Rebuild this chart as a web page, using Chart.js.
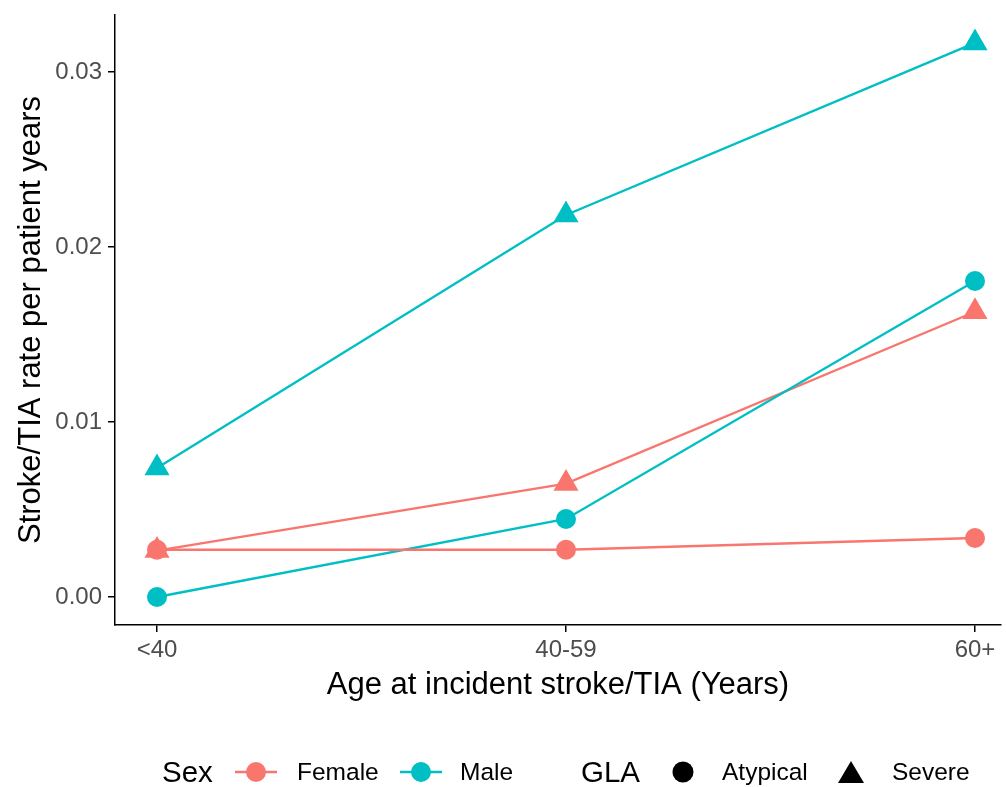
<!DOCTYPE html>
<html>
<head>
<meta charset="utf-8">
<script src="https://cdn.jsdelivr.net/npm/chart.js@4.4.1/dist/chart.umd.min.js"></script>
<style>
  html, body { margin: 0; padding: 0; background: #fff; }
  #wrap { position: relative; width: 1006px; height: 787px; font-family: "Liberation Sans", Arial, sans-serif; }
  #chart { position: absolute; left: 0; top: 0; }
  .lg { position: absolute; top: 772px; transform: translateY(-50%); white-space: nowrap; color: #000; line-height: 1; }
  .lg.title { font-size: 29.5px; }
  .lg.label { font-size: 24.5px; }
  .lg svg { display: block; }
</style>
</head>
<body>
<div id="wrap">
  <canvas id="chart" width="1006" height="787"></canvas>
</div>
<script>
// ====================================
// STROKE/TIA RATE BY AGE, SEX AND GLA
// ====================================

const categories = ['<40', '40-59', '60+'];
const yTicks = [0, 0.01, 0.02, 0.03];

// series values (rate per patient years)
const femaleAtypical = [0.0027, 0.0027, 0.00337];
const femaleSevere   = [0.00265, 0.00648, 0.0163];
const maleAtypical   = [0.0, 0.00446, 0.01806];
const maleSevere     = [0.00737, 0.02183, 0.03166];

const sexColors = { Female: '#F8766D', Male: '#00BFC4' };

const FONT = '"Liberation Sans", Arial, sans-serif';

function toPoints(values) {
  return values.map((v, i) => ({ x: i, y: v }));
}

function makeSet(label, sex, shape, values) {
  const isTri = shape === 'triangle';
  return {
    label: label,
    data: toPoints(values),
    borderColor: sexColors[sex],
    backgroundColor: sexColors[sex],
    borderWidth: 2.4,
    pointStyle: shape,
    pointRadius: isTri ? 14.5 : 10,
    pointHoverRadius: isTri ? 14.5 : 10,
    pointBorderWidth: 0,
    tension: 0,
    clip: false
  };
}

// drop the label overhang padding so the plot area is exact
function noPad(scale) {
  scale.paddingLeft = 0;
  scale.paddingRight = 0;
  scale.paddingTop = 0;
  scale.paddingBottom = 0;
}

const ctx = document.getElementById('chart').getContext('2d');

new Chart(ctx, {
  type: 'line',
  data: {
    datasets: [
      makeSet('Female Atypical', 'Female', 'circle', femaleAtypical),
      makeSet('Male Atypical', 'Male', 'circle', maleAtypical),
      makeSet('Female Severe', 'Female', 'triangle', femaleSevere),
      makeSet('Male Severe', 'Male', 'triangle', maleSevere)
    ]
  },
  options: {
    responsive: false,
    animation: false,
    layout: { autoPadding: false, padding: { left: 0, top: 15, right: 5, bottom: 83 } },
    plugins: {
      legend: { display: false },
      tooltip: { enabled: false }
    },
    scales: {
      x: {
        type: 'linear',
        min: -0.1027,
        max: 2.0636,
        afterFit: (scale) => { scale.height = 79; noPad(scale); },
        afterBuildTicks: (scale) => {
          scale.ticks = categories.map((c, i) => ({ value: i }));
        },
        border: { display: true, color: '#000', width: 1.5 },
        grid: { drawOnChartArea: false, drawTicks: true, tickLength: 7, color: '#000', lineWidth: 1.5 },
        ticks: {
          color: '#4D4D4D',
          padding: 4,
          maxRotation: 0,
          font: { family: FONT, size: 24 },
          callback: (value) => categories[value]
        },
        title: {
          display: true,
          text: 'Age at incident stroke/TIA (Years)',
          color: '#000',
          padding: { top: 0, bottom: 0 },
          font: { family: FONT, size: 31 }
        }
      },
      y: {
        min: -0.0016,
        max: 0.033257,
        afterFit: (scale) => { scale.width = 115; noPad(scale); },
        afterBuildTicks: (scale) => {
          scale.ticks = yTicks.map(v => ({ value: v }));
        },
        border: { display: true, color: '#000', width: 1.5 },
        grid: { drawOnChartArea: false, drawTicks: true, tickLength: 7, color: '#000', lineWidth: 1.5 },
        ticks: {
          color: '#4D4D4D',
          padding: 6,
          font: { family: FONT, size: 24 },
          callback: (value) => value.toFixed(2)
        },
        title: {
          display: true,
          text: 'Stroke/TIA rate per patient years',
          color: '#000',
          padding: { top: 13, bottom: 0 },
          font: { family: FONT, size: 31 }
        }
      }
    }
  }
});

// legend below the plot (ggplot style, two groups)
const wrap = document.getElementById('wrap');

function addText(text, cls, left) {
  const el = document.createElement('div');
  el.className = 'lg ' + cls;
  el.style.left = left + 'px';
  el.textContent = text;
  wrap.appendChild(el);
}

function addMarker(svg, left) {
  const el = document.createElement('div');
  el.className = 'lg';
  el.style.left = left + 'px';
  el.innerHTML = svg;
  wrap.appendChild(el);
}

function lineKey(color) {
  return '<svg width="42" height="22"><line x1="0" y1="11" x2="42" y2="11" stroke="' + color +
    '" stroke-width="2.4"/><circle cx="21" cy="11" r="10" fill="' + color + '"/></svg>';
}

addText('Sex', 'title', 162);
addMarker(lineKey(sexColors.Female), 235);
addText('Female', 'label', 297);
addMarker(lineKey(sexColors.Male), 400);
addText('Male', 'label', 460);

addText('GLA', 'title', 581);
addMarker('<svg width="22" height="22"><circle cx="11" cy="11" r="10.5" fill="#000"/></svg>', 672);
addText('Atypical', 'label', 722);
addMarker('<svg width="26" height="24"><polygon points="13,1 26,23 0,23" fill="#000"/></svg>', 838);
addText('Severe', 'label', 892);
</script>
</body>
</html>
